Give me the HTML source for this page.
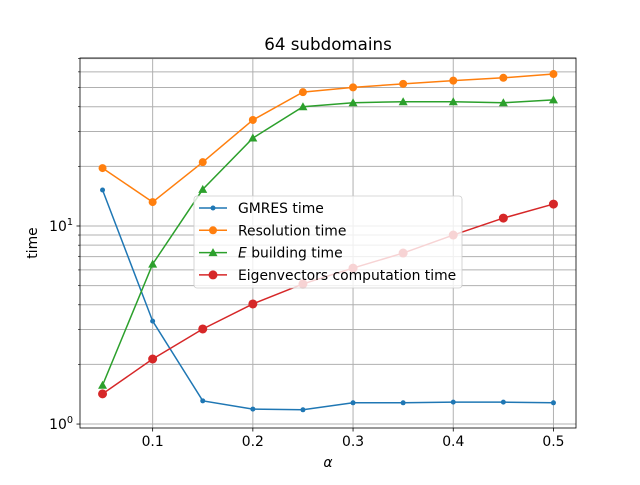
<!DOCTYPE html>
<html><head><meta charset="utf-8"><style>
body{margin:0;background:#fff}
svg{font-family:"DejaVu Sans","Liberation Sans",sans-serif}
</style></head><body>
<svg id="chart" width="640" height="480" xmlns="http://www.w3.org/2000/svg">
<rect width="640" height="480" fill="#fff"/>
<g id="grid"></g>
<g id="axes"></g>
<g id="series"></g>
<text x="328" y="50" text-anchor="middle" font-size="16.7">64 subdomains</text>
<text x="328" y="467" text-anchor="middle" font-size="13.9" font-style="italic">α</text>
<text transform="translate(37,243) rotate(-90)" text-anchor="middle" font-size="13.9">time</text>
<g id="legend"></g>
</svg>
<script>
const alphas=[0.05,0.1,0.15,0.2,0.25,0.3,0.35,0.4,0.45,0.5];
const gmres=[15.2,3.31,1.31,1.19,1.18,1.28,1.28,1.29,1.29,1.28];
const resolution=[19.6,13.2,21.0,34.3,47.4,50.1,52.2,54.2,56.0,58.5];
const eBuilding=[1.57,6.42,15.3,27.8,40.0,41.9,42.4,42.4,41.9,43.3];
const eigen=[1.42,2.13,3.02,4.04,5.10,6.13,7.30,9.0,10.96,12.9];
const xTicks=[0.1,0.2,0.3,0.4,0.5];
const seriesNames=["GMRES time","Resolution time","E building time","Eigenvectors computation time"];

const L=80,R=576,T=58,B=428;
const xMin=0.0275,xMax=0.5225;
const yLogMin=Math.log10(0.955),yLogMax=Math.log10(70.5);
const X=v=>L+(v-xMin)/(xMax-xMin)*(R-L);
const Y=v=>B-(Math.log10(v)-yLogMin)/(yLogMax-yLogMin)*(B-T);
const NS="http://www.w3.org/2000/svg";
function mk(tag,attrs,parent){const e=document.createElementNS(NS,tag);for(const k in attrs)e.setAttribute(k,attrs[k]);parent.appendChild(e);return e;}
const grid=document.getElementById('grid'),axes=document.getElementById('axes'),ser=document.getElementById('series'),leg=document.getElementById('legend');

for(let d=0;d<=1;d++){for(let m=1;m<=9;m++){const v=m*Math.pow(10,d);if(v<0.955||v>70.5)continue;
 const l=mk('line',{x1:L,x2:R,y1:Y(v),y2:Y(v),stroke:'#b0b0b0','stroke-width':1},grid);
 
 
 const t=mk('line',{x1:L,x2:L-(m===1?3.5:2),y1:Y(v),y2:Y(v),stroke:'#000','stroke-width':m===1?0.8:0.6},axes);
 
 
 if(m===1){const tx=mk('text',{x:L-7,y:Y(v)+5,'text-anchor':'end','font-size':13.9},axes);
  tx.innerHTML='10<tspan dy="-6" font-size="9.7">'+d+'</tspan>';
  
  }
}}
xTicks.forEach(v=>{
 const l=mk('line',{x1:X(v),x2:X(v),y1:T,y2:B,stroke:'#b0b0b0','stroke-width':1},grid);
 
 
 const t=mk('line',{x1:X(v),x2:X(v),y1:B,y2:B+3.5,stroke:'#000','stroke-width':0.8},axes);
 
 
 const tx=mk('text',{x:X(v),y:B+18,'text-anchor':'middle','font-size':13.9},axes);
 tx.textContent=String(v);
 
 
});
const frame=mk('rect',{x:L,y:T,width:R-L,height:B-T,fill:'none',stroke:'#000','stroke-width':0.8},axes);



function marker(type,cx,cy,c,p){
 if(type==='tri'){return mk('polygon',{points:`${cx},${cy-4.5} ${cx-4.5},${cy+3.5} ${cx+4.5},${cy+3.5}`,fill:c},p);}
 const r=type==='small'?2.5:type==='big'?4.5:4;
 return mk('circle',{cx:cx,cy:cy,r:r,fill:c},p);
}
const defs=[[gmres,'#1f77b4','small','gmres'],[resolution,'#ff7f0e','med','resolution'],[eBuilding,'#2ca02c','tri','e-building'],[eigen,'#d62728','big','eigenvectors']];
defs.forEach(([vals,c,mt,nm])=>{
 const g=mk('g',{},ser);
 
 
 const pl=mk('polyline',{points:vals.map((v,i)=>X(alphas[i])+','+Y(v)).join(' '),fill:'none',stroke:c,'stroke-width':1.5},g);
 
 
 vals.forEach((v,i)=>{const m=marker(mt,X(alphas[i]),Y(v),c,g);
  
  });
});
const box=mk('rect',{x:194,y:196,width:268,height:92,rx:3,fill:'#fff','fill-opacity':0.8,stroke:'#ccc','stroke-width':0.8},leg);


defs.forEach(([vals,c,mt,nm],i)=>{
 const y=208+i*22.3;
 const g=mk('g',{},leg);
 
 
 mk('line',{x1:199,x2:227,y1:y,y2:y,stroke:c,'stroke-width':1.5},g);
 marker(mt,213,y,c,g);
 const t=mk('text',{x:238,y:y+5,'font-size':13.9},g);
 if(i===2){t.innerHTML='<tspan font-style="italic">E</tspan> building time';}else t.textContent=seriesNames[i];
});
</script>
</body></html>
